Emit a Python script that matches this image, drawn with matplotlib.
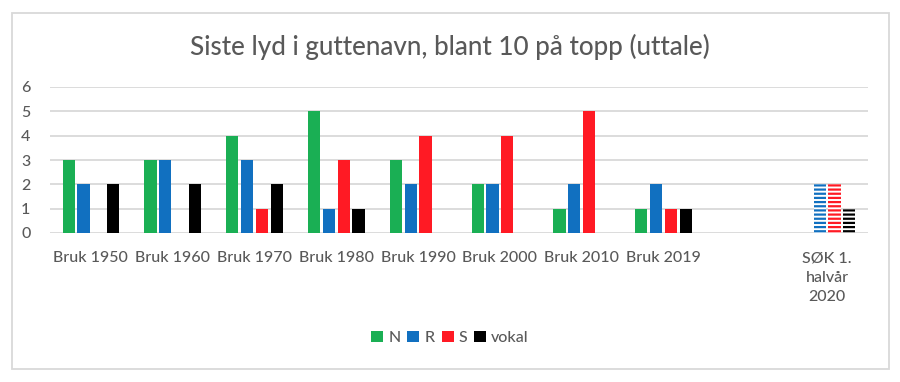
import numpy as np
import matplotlib
matplotlib.use('Agg')
import matplotlib.pyplot as plt
from matplotlib.patches import Rectangle, Patch

# data
categories = ['Bruk 1950', 'Bruk 1960', 'Bruk 1970', 'Bruk 1980', 'Bruk 1990',
              'Bruk 2000', 'Bruk 2010', 'Bruk 2019', '', 'SØK 1.\nhalvår\n2020']
N_vals = [3, 3, 4, 5, 3, 2, 1, 1, 0, 0]
R_vals = [2, 3, 3, 1, 2, 2, 2, 2, 0, 2]
S_vals = [0, 0, 1, 3, 4, 4, 5, 1, 0, 2]
vokal_vals = [2, 2, 2, 1, 0, 0, 0, 1, 0, 1]
series_names = ['N', 'R', 'S', 'vokal']
colors = ['#1aaf54', '#1170c0', '#ff1a24', '#000000']
hatched_idx = 9  # last group is drawn striped

plt.rcParams['font.family'] = ['Lato', 'DejaVu Sans']
plt.rcParams['hatch.linewidth'] = 1.6
txt = '#595959'

fig = plt.figure(figsize=(9, 3.82), dpi=100)
ax = fig.add_axes([50/900, 1-233/382, 818/900, 146/382])

x = np.arange(len(categories))
step = 0.181
width = 0.147
offsets = [-1.5*step, -0.5*step, 0.5*step, 1.5*step]
allvals = [N_vals, R_vals, S_vals, vokal_vals]

for vals, off, col in zip(allvals, offsets, colors):
    vals = np.array(vals)
    solid = np.array([v if i != hatched_idx else 0 for i, v in enumerate(vals)])
    ax.bar(x + off, solid, width, color=col, zorder=3)
    ax.bar(x[hatched_idx] + off, vals[hatched_idx], width, facecolor='white',
           edgecolor=col, hatch='----', linewidth=0, zorder=3)

ax.set_xlim(-0.5, len(categories) - 0.5)
ax.set_ylim(0, 6)
ax.set_yticks(range(0, 7))
ax.yaxis.grid(True, color='#d9d9d9', linewidth=1.3, zorder=0)
ax.set_axisbelow(True)
for s in ax.spines.values():
    s.set_visible(False)
ax.tick_params(length=0, colors=txt, labelsize=11.5)
ax.tick_params(axis='y', pad=14)
ax.tick_params(axis='x', pad=13)
ax.set_xticks(x)
ax.set_xticklabels(categories, linespacing=1.5)
for lbl in ax.get_xticklabels() + ax.get_yticklabels():
    lbl.set_fontweight('medium')

fig.text(0.5, 1-47/382, 'Siste lyd i guttenavn, blant 10 på topp (uttale)',
         ha='center', va='center', fontsize=18.7, color=txt, fontweight='medium')

handles = [Patch(facecolor=c, edgecolor='none') for c in colors]
fig.legend(handles, series_names, loc='center', bbox_to_anchor=(0.5, 1-338/382),
           ncol=4, frameon=False, handlelength=0.75, handleheight=0.75,
           handletextpad=0.3, columnspacing=0.45, labelcolor=txt,
           prop={'weight': 'medium', 'size': 11.5})

fig.patches.append(Rectangle((12/900, 1-369/382), 877/900, 356/382, transform=fig.transFigure,
                             fill=False, edgecolor='#d9d9d9', linewidth=1.3))

fig.savefig('out.png', dpi=100)
